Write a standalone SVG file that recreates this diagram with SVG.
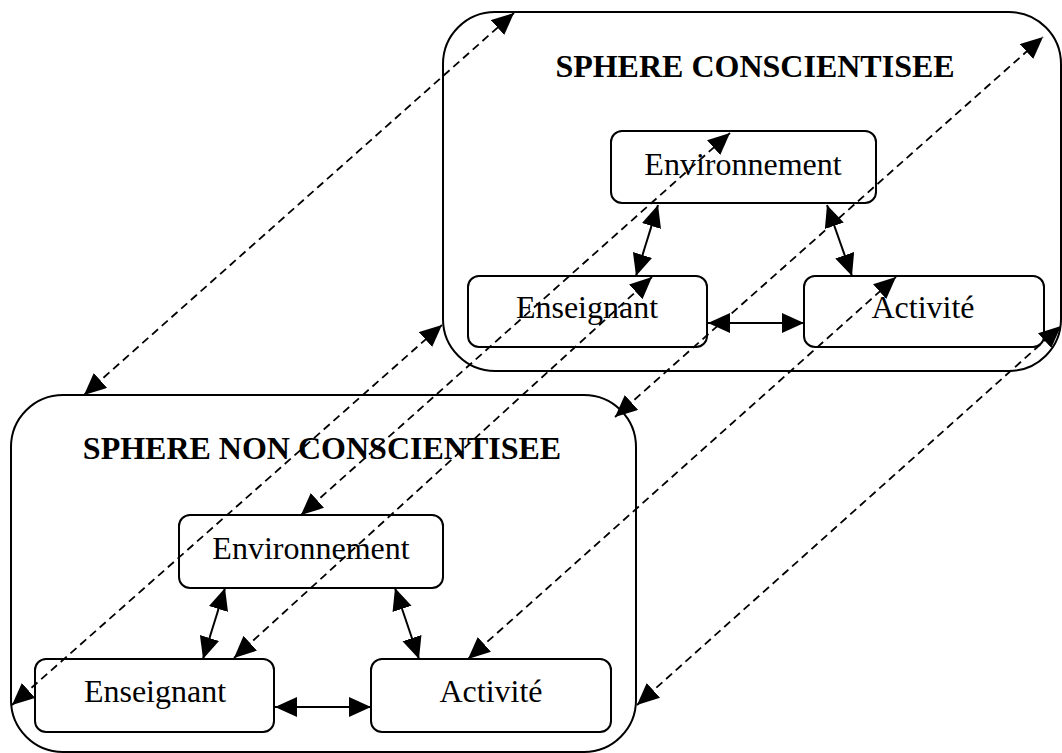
<svg xmlns="http://www.w3.org/2000/svg" width="1062" height="753" viewBox="0 0 1062 753">
<defs>
<marker id="ah" markerUnits="userSpaceOnUse" markerWidth="24" markerHeight="22" refX="22" refY="10" orient="auto-start-reverse">
<path d="M0,0 L22,10 L0,20 z" fill="#000"/>
</marker>
<style>
.sphere{fill:none;stroke:#000;stroke-width:2}
.box{fill:#fff;stroke:#000;stroke-width:2}
.title{font-family:"Liberation Serif","Times New Roman",serif;font-weight:bold;font-size:32px;text-anchor:middle;fill:#000}
.lbl{font-family:"Liberation Serif","Times New Roman",serif;font-size:32px;text-anchor:middle;fill:#000}
.solid{stroke:#000;stroke-width:2;fill:none;marker-start:url(#ah);marker-end:url(#ah)}
.dash{stroke:#000;stroke-width:1.8;fill:none;stroke-dasharray:8 5;marker-start:url(#ah);marker-end:url(#ah)}
</style>
</defs>
<rect width="1062" height="753" fill="#fff"/>
<g id="sphere-conscientisee">
<rect class="sphere" x="443" y="12" width="618" height="359" rx="52" ry="52"/>
<text class="title" x="755" y="77">SPHERE CONSCIENTISEE</text>
</g>
<g id="sphere-non-conscientisee">
<rect class="sphere" x="11" y="395" width="625" height="357" rx="52" ry="52"/>
<text class="title" x="322" y="459">SPHERE NON CONSCIENTISEE</text>
</g>
<g id="top-environnement">
<rect class="box" x="611" y="131" width="265" height="72" rx="11"/>
<text class="lbl" x="743" y="175">Environnement</text>
</g>
<g id="top-enseignant">
<rect class="box" x="468" y="276" width="239" height="71" rx="11"/>
<text class="lbl" x="587" y="318">Enseignant</text>
</g>
<g id="top-activite">
<rect class="box" x="804" y="276" width="240" height="71" rx="11"/>
<text class="lbl" x="923" y="318">Activité</text>
</g>
<g id="bottom-environnement">
<rect class="box" x="179" y="515" width="264" height="73" rx="11"/>
<text class="lbl" x="311" y="559">Environnement</text>
</g>
<g id="bottom-enseignant">
<rect class="box" x="35" y="659" width="239" height="73" rx="11"/>
<text class="lbl" x="155" y="702">Enseignant</text>
</g>
<g id="bottom-activite">
<rect class="box" x="371" y="659" width="240" height="73" rx="11"/>
<text class="lbl" x="491" y="702">Activité</text>
</g>
<g id="connectors">
<line class="solid" x1="658" y1="205" x2="636" y2="276"/>
<line class="solid" x1="827" y1="205" x2="852" y2="276"/>
<line class="solid" x1="708" y1="323" x2="804" y2="323"/>
<line class="solid" x1="225" y1="588" x2="203" y2="659"/>
<line class="solid" x1="395" y1="588" x2="419" y2="659"/>
<line class="solid" x1="275" y1="707" x2="371" y2="707"/>
<line class="dash" x1="84" y1="395" x2="514" y2="13"/>
<line class="dash" x1="12" y1="705" x2="442" y2="325"/>
<line class="dash" x1="234" y1="658" x2="652" y2="277"/>
<line class="dash" x1="301" y1="515" x2="730" y2="133"/>
<line class="dash" x1="468" y1="659" x2="896" y2="277"/>
<line class="dash" x1="615" y1="417" x2="1043" y2="37"/>
<line class="dash" x1="637" y1="705" x2="1061" y2="326"/>
</g>
</svg>
